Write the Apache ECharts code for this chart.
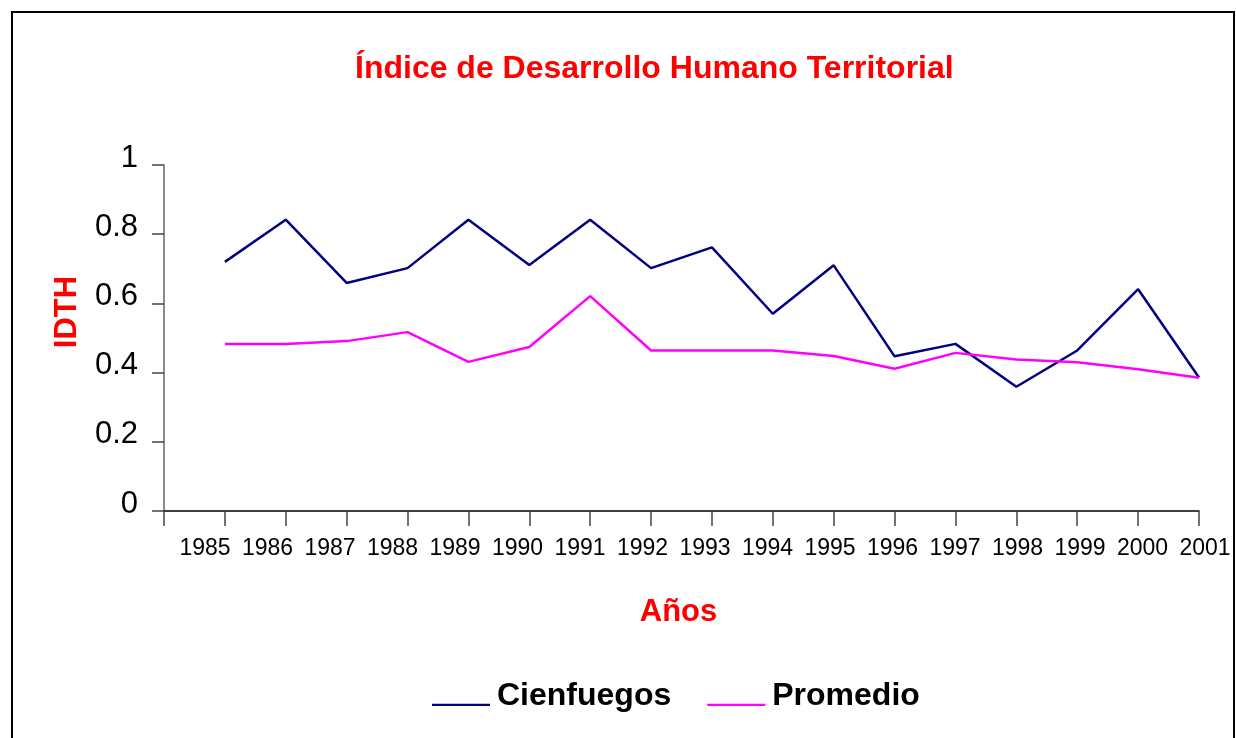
<!DOCTYPE html>
<html>
<head>
<meta charset="utf-8">
<script src="https://cdn.jsdelivr.net/npm/echarts@6/dist/echarts.min.js"></script>
<style>
  html, body { margin: 0; padding: 0; background: #fff; overflow: hidden; }
  #frame { position: absolute; left: 11px; top: 11px; width: 1220px; height: 800px; border: 2px solid #000; }
  #chart { position: absolute; left: 0; top: 0; width: 1236px; height: 738px; }
</style>
</head>
<body>
<div id="frame"></div>
<div id="chart"></div>
<script>
const titleText = 'Índice de Desarrollo Humano Territorial';
const yAxisName = 'IDTH';
const xAxisName = 'Años';
const years = ['1985','1986','1987','1988','1989','1990','1991','1992','1993','1994','1995','1996','1997','1998','1999','2000','2001'];
const cienfuegos = [0.72, 0.842, 0.659, 0.702, 0.842, 0.711, 0.842, 0.702, 0.762, 0.570, 0.710, 0.447, 0.483, 0.359, 0.464, 0.641, 0.386];
const promedio  = [0.483, 0.483, 0.491, 0.517, 0.431, 0.474, 0.621, 0.464, 0.464, 0.464, 0.448, 0.411, 0.457, 0.438, 0.430, 0.410, 0.385];
const seriesNames = ['Cienfuegos', 'Promedio'];
const seriesColors = ['#000080', '#ff00ff'];

const FONT = "'Liberation Sans', Arial, sans-serif";
const chart = echarts.init(document.getElementById('chart'), null, { renderer: 'canvas' });

const categories = [''].concat(years);
const pad = arr => [null].concat(arr);

chart.setOption({
  animation: false,
  backgroundColor: 'transparent',
  title: {
    text: titleText,
    left: 350,
    top: 48,
    textStyle: { color: '#ff0000', fontFamily: FONT, fontWeight: 'bold', fontSize: 32 }
  },
  legend: {
    left: 427,
    top: 675,
    itemWidth: 58,
    itemHeight: 20,
    itemGap: 36,
    icon: 'path://M0,0 M0,17.8 L58,17.8 L58,20 L0,20 Z',
    data: seriesNames,
    textStyle: { color: '#000', fontFamily: FONT, fontWeight: 'bold', fontSize: 32, padding: [0, 0, 0, 2] }
  },
  grid: [
    { left: 164, right: 37, top: 165, bottom: 227, outerBoundsMode: 'none' },
    { left: 205, right: 31, top: 165, bottom: 227, outerBoundsMode: 'none' }
  ],
  xAxis: [
    {
      type: 'category',
      gridIndex: 0,
      data: categories,
      boundaryGap: false,
      name: xAxisName,
      nameLocation: 'middle',
      nameGap: 86,
      nameTextStyle: { color: '#ff0000', fontFamily: FONT, fontWeight: 'bold', fontSize: 31, padding: [0, 6, 0, 0] },
      axisLine: { show: true, lineStyle: { color: '#000', width: 1.5 } },
      axisTick: { show: true, length: 15, interval: 0, lineStyle: { color: '#444', width: 1.5 } },
      axisLabel: { show: false },
      splitLine: { show: false }
    },
    {
      type: 'category',
      gridIndex: 1,
      data: years,
      boundaryGap: false,
      axisLine: { show: false },
      axisTick: { show: false },
      axisLabel: { show: true, interval: 0, margin: 26, color: '#000', fontFamily: FONT, fontSize: 23 },
      splitLine: { show: false }
    }
  ],
  yAxis: [
    {
      type: 'value',
      gridIndex: 0,
      min: 0,
      max: 1,
      interval: 0.2,
      name: yAxisName,
      nameLocation: 'middle',
      nameGap: 81,
      nameRotate: 90,
      nameTextStyle: { color: '#ff0000', fontFamily: FONT, fontWeight: 'bold', fontSize: 31, padding: [0, 0, 0, 52] },
      axisLine: { show: true, lineStyle: { color: '#666', width: 1.5 } },
      axisTick: { show: true, length: 12, lineStyle: { color: '#444', width: 1.5 } },
      axisLabel: { show: true, margin: 26, color: '#000', fontFamily: FONT, fontSize: 31, verticalAlign: 'bottom', lineHeight: 14 },
      splitLine: { show: false }
    },
    { type: 'value', gridIndex: 1, show: false, min: 0, max: 1 }
  ],
  series: [
    {
      name: seriesNames[0], type: 'line', xAxisIndex: 0, yAxisIndex: 0,
      data: pad(cienfuegos), showSymbol: false, symbol: 'none',
      lineStyle: { color: seriesColors[0], width: 2.5 }, itemStyle: { color: seriesColors[0] }
    },
    {
      name: seriesNames[1], type: 'line', xAxisIndex: 0, yAxisIndex: 0,
      data: pad(promedio), showSymbol: false, symbol: 'none',
      lineStyle: { color: seriesColors[1], width: 2.5 }, itemStyle: { color: seriesColors[1] }
    }
  ]
});
</script>
</body>
</html>
